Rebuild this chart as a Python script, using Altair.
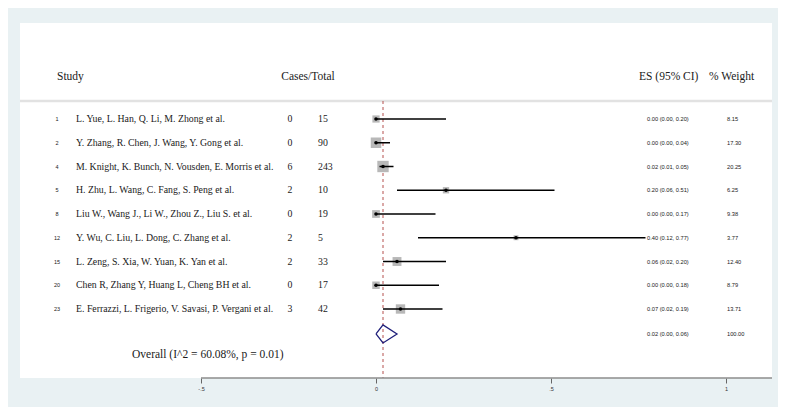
import altair as alt
import pandas as pd

# ---------------- data ----------------
study_ids = ["1", "2", "4", "5", "8", "12", "15", "20", "23"]
authors = [
    "L. Yue, L. Han, Q. Li, M. Zhong et al.",
    "Y. Zhang, R. Chen, J. Wang, Y. Gong et al.",
    "M. Knight, K. Bunch, N. Vousden, E. Morris et al.",
    "H. Zhu, L. Wang, C. Fang, S. Peng et al.",
    "Liu W., Wang J., Li W., Zhou Z., Liu S. et al.",
    "Y. Wu, C. Liu, L. Dong, C. Zhang et al.",
    "L. Zeng, S. Xia, W. Yuan, K. Yan et al.",
    "Chen R, Zhang Y, Huang L, Cheng BH et al.",
    "E. Ferrazzi, L. Frigerio, V. Savasi, P. Vergani et al.",
]
cases = [0, 0, 6, 2, 0, 2, 2, 0, 3]
totals = [15, 90, 243, 10, 19, 5, 33, 17, 42]
es = [0.00, 0.00, 0.02, 0.20, 0.00, 0.40, 0.06, 0.00, 0.07]
ci_lo = [0.00, 0.00, 0.01, 0.06, 0.00, 0.12, 0.02, 0.00, 0.02]
ci_hi = [0.20, 0.04, 0.05, 0.51, 0.17, 0.77, 0.20, 0.18, 0.19]
weights = [8.15, 17.30, 20.25, 6.25, 9.38, 3.77, 12.40, 8.79, 13.71]

overall_es = 0.02
overall_lo = 0.00
overall_hi = 0.06
overall_weight = 100.00
overall_label = "Overall (I^2 = 60.08%, p = 0.01)"

tick_values = [-0.5, 0, 0.5, 1]
tick_labels = ["-.5", "0", ".5", "1"]

# ---------------- tables ----------------
rows = list(range(len(study_ids)))
df = pd.DataFrame({
    "row": rows,
    "sid": study_ids,
    "author": authors,
    "cases": [str(c) for c in cases],
    "total": [str(t) for t in totals],
    "es": es,
    "lo": ci_lo,
    "hi": ci_hi,
    "w": weights,
    "es_txt": [f"{e:.2f} ({l:.2f}, {h:.2f})" for e, l, h in zip(es, ci_lo, ci_hi)],
    "w_txt": [f"{w:.2f}" for w in weights],
})

OV_ROW = 9.05
OV_TXT_ROW = 9.93
DH = 0.38
diamond = pd.DataFrame({
    "x": [overall_lo, overall_es, overall_hi, overall_es, overall_lo],
    "y": [OV_ROW, OV_ROW - DH, OV_ROW, OV_ROW + DH, OV_ROW],
    "o": [0, 1, 2, 3, 4],
})
ov = pd.DataFrame({
    "row": [OV_ROW],
    "txt_row": [OV_TXT_ROW],
    "es": [overall_es],
    "es_txt": [f"{overall_es:.2f} ({overall_lo:.2f}, {overall_hi:.2f})"],
    "w_txt": [f"{overall_weight:.2f}"],
    "label": [overall_label],
})

W, H = 752, 355
X_DOM = [(20 - 376) / 350, (772 - 376) / 350]
Y_DOM = [-96 / 23.75, (H - 96) / 23.75]
xs = alt.Scale(domain=X_DOM, nice=False, zero=False)
ys = alt.Scale(domain=Y_DOM, nice=False, zero=False, reverse=True)

label_expr = " : ".join(
    f"datum.value == {v} ? '{l}'" for v, l in zip(tick_values, tick_labels)
) + " : datum.label"

SERIF = "Liberation Serif"
SANS = "Liberation Sans"

base = alt.Chart(df)
Yrow = alt.Y("row:Q", scale=ys, axis=None)

# axis line (from -0.5 to right edge)
axis_df = pd.DataFrame({"a": [tick_values[0]], "b": [X_DOM[1]]})
axis_line = alt.Chart(axis_df).mark_rule(color="#8c8c8c", strokeWidth=1.6).encode(
    x=alt.X("a:Q", scale=xs,
            axis=alt.Axis(values=tick_values, labelExpr=label_expr, domain=False,
                          grid=False, tickColor="#666666", tickSize=5, tickWidth=1,
                          labelFontSize=5.5, labelFont=SANS, labelColor="#333333",
                          labelPadding=3, title=None)),
    x2="b:Q",
    y=alt.value(H),
)

sep = alt.Chart(pd.DataFrame({"k": [0]})).mark_rule(color="#e2e2e2", strokeWidth=2.5).encode(
    x=alt.value(0), x2=alt.value(W), y=alt.value(78)
)

ref_line = alt.Chart(ov).mark_rule(color="#b5514f", strokeWidth=1, strokeDash=[3, 3]).encode(
    x=alt.X("es:Q", scale=xs), y=alt.value(78), y2=alt.value(H)
)

boxes = base.mark_square(color="#b8b8b8", opacity=1).encode(
    x=alt.X("es:Q", scale=xs),
    y=Yrow,
    size=alt.Size("w:Q", scale=alt.Scale(domain=[0, 25], range=[0, 160]), legend=None),
)

ci = base.mark_rule(color="black", strokeWidth=1.5).encode(
    x=alt.X("lo:Q", scale=xs), x2="hi:Q", y=Yrow
)

pts = base.mark_point(shape="circle", filled=True, color="black", size=13, opacity=1).encode(
    x=alt.X("es:Q", scale=xs), y=Yrow
)

dia = alt.Chart(diamond).mark_line(color="#1f1f7a", strokeWidth=1.3).encode(
    x=alt.X("x:Q", scale=xs), y=alt.Y("y:Q", scale=ys, axis=None), order="o:Q"
)


def col_text(field, x, size, font, align="left", data=None, yfield="row"):
    src = base if data is None else alt.Chart(data)
    return src.mark_text(align=align, baseline="middle", fontSize=size, font=font,
                         color="#1a1a1a").encode(
        x=alt.value(x), y=alt.Y(f"{yfield}:Q", scale=ys, axis=None), text=f"{field}:N"
    )


def header(txt, x, size=11.5, align="left"):
    return alt.Chart(pd.DataFrame({"t": [txt]})).mark_text(
        align=align, baseline="middle", fontSize=size, font=SERIF, color="#1a1a1a"
    ).encode(x=alt.value(x), y=alt.value(54), text="t:N")


layers = [
    sep, ref_line, axis_line, boxes, ci, pts, dia,
    col_text("sid", 37, 5.5, SANS, align="center"),
    col_text("author", 56, 9.8, SERIF),
    col_text("cases", 270, 9.8, SERIF, align="center"),
    col_text("total", 298, 9.8, SERIF),
    col_text("es_txt", 627, 5.7, SANS),
    col_text("w_txt", 707, 5.7, SANS),
    col_text("es_txt", 627, 5.7, SANS, data=ov),
    col_text("w_txt", 707, 5.7, SANS, data=ov),
    col_text("label", 112, 11.5, SERIF, data=ov, yfield="txt_row"),
    header("Study", 37),
    header("Cases/Total", 288, align="center"),
    header("ES (95% CI)", 619),
    header("% Weight", 689),
]

chart = alt.layer(*layers).properties(
    width=W, height=H,
    padding={"left": 12, "top": 15, "right": 6, "bottom": 29},
    autosize=alt.AutoSizeParams(type="none"),
    background="#e9f1f3",
).configure_view(fill="white", stroke=None)

chart.save("out.html", embed_options={"renderer": "svg", "actions": False})
